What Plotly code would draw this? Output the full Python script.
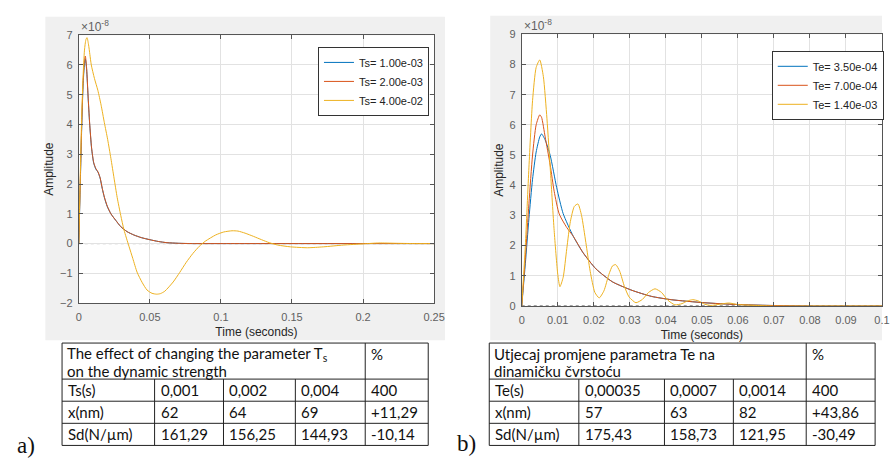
import plotly.graph_objects as go

W, H = 893, 464

# ---------------- data (amplitudes in units of 1e-8) ----------------
labels_a = ["Ts= 1.00e-03", "Ts= 2.00e-03", "Ts= 4.00e-02"]
labels_b = ["Te= 3.50e-04", "Te= 7.00e-04", "Te= 1.40e-03"]
colors = ["#0072BD", "#D95319", "#EDB120"]

t_a12 = [0, 0.001, 0.002, 0.003, 0.004, 0.0046, 0.0055, 0.0065, 0.0076, 0.009, 0.0105,
         0.012, 0.0135, 0.015, 0.0165, 0.018, 0.02, 0.0226, 0.026, 0.0295, 0.034, 0.0387,
         0.044, 0.05, 0.056, 0.062, 0.07, 0.08, 0.1, 0.15, 0.2, 0.25]
amp_a1 = [0, 1.9, 3.8, 5.3, 6.05, 6.2, 5.85, 4.95, 4.05, 3.2, 2.7,
          2.5, 2.4, 2.2, 1.85, 1.55, 1.25, 1.0, 0.78, 0.57, 0.4, 0.29,
          0.2, 0.13, 0.07, 0.03, 0.01, 0.0, 0.0, 0.0, 0.0, 0.0]
amp_a2 = [0, 2.0, 3.9, 5.4, 6.15, 6.3, 5.9, 5.0, 4.08, 3.22, 2.72,
          2.52, 2.41, 2.21, 1.86, 1.56, 1.26, 1.0, 0.78, 0.57, 0.4, 0.29,
          0.2, 0.13, 0.07, 0.03, 0.01, 0.0, 0.0, 0.0, 0.0, 0.0]
t_a3 = [0, 0.001, 0.002, 0.003, 0.004, 0.005, 0.0058, 0.0068, 0.0078, 0.0088, 0.011, 0.0134,
        0.0157, 0.018, 0.0203, 0.0226, 0.0248, 0.027, 0.0295, 0.0318, 0.0353, 0.038, 0.041,
        0.0445, 0.048, 0.0515, 0.0548, 0.0575, 0.0605, 0.0664, 0.071, 0.0756, 0.0803, 0.0848,
        0.089, 0.0963, 0.102, 0.1078, 0.112, 0.117, 0.123, 0.1286, 0.134, 0.14, 0.149, 0.161,
        0.172, 0.186, 0.2, 0.211, 0.223, 0.237, 0.25]
amp_a3 = [0, 2.2, 4.2, 5.6, 6.5, 6.85, 6.92, 6.7, 6.35, 6.0, 5.55, 5.15,
          4.65, 4.06, 3.5, 2.86, 2.2, 1.55, 0.95, 0.46, -0.09, -0.5, -0.96,
          -1.3, -1.56, -1.67, -1.7, -1.68, -1.6, -1.29, -0.97, -0.63, -0.33, -0.09,
          0.08, 0.29, 0.39, 0.43, 0.42, 0.35, 0.24, 0.13, 0.03, -0.05, -0.11, -0.14,
          -0.11, -0.05, -0.01, 0.02, 0.01, 0.0, 0.0]

t_b1 = [0, 0.001, 0.002, 0.003, 0.004, 0.005, 0.0055, 0.0065, 0.0079, 0.0097, 0.0115, 0.0143,
        0.017, 0.0206, 0.0252, 0.0306, 0.036, 0.0415, 0.0506, 0.0597, 0.0688, 0.08, 0.1]
amp_b1 = [0, 1.4, 2.9, 4.2, 5.1, 5.6, 5.7, 5.5, 4.99, 3.92, 3.06, 2.31,
          1.77, 1.23, 0.8, 0.52, 0.32, 0.21, 0.11, 0.05, 0.02, 0.0, 0.0]
t_b2 = [0, 0.001, 0.002, 0.003, 0.004, 0.005, 0.0055, 0.0065, 0.0079, 0.009, 0.0104, 0.0125,
        0.0143, 0.017, 0.0206, 0.0252, 0.0306, 0.036, 0.0415, 0.0506, 0.0597, 0.0688, 0.08, 0.1]
amp_b2 = [0, 1.6, 3.4, 5.0, 6.0, 6.33, 6.25, 5.6, 4.67, 3.8, 3.05, 2.6,
          2.31, 1.77, 1.23, 0.8, 0.52, 0.32, 0.21, 0.11, 0.05, 0.02, 0.0, 0.0]
t_b3 = [0, 0.001, 0.002, 0.003, 0.004, 0.005, 0.006, 0.007, 0.008, 0.009, 0.01, 0.0106,
        0.0115, 0.0125, 0.0135, 0.0146, 0.0156, 0.0166, 0.0178, 0.019, 0.0203, 0.0215,
        0.0228, 0.0242, 0.0252, 0.0261, 0.0272, 0.0285, 0.0298, 0.0317, 0.0335, 0.0352,
        0.037, 0.0388, 0.0405, 0.0425, 0.0445, 0.046, 0.0475, 0.049, 0.0508, 0.0525,
        0.055, 0.0575, 0.06, 0.065, 0.07, 0.08, 0.1]
amp_b3 = [0, 2.0, 4.6, 6.8, 7.9, 8.15, 7.6, 6.2, 4.4, 2.5, 1.05, 0.64,
          0.95, 1.9, 2.8, 3.3, 3.38, 3.0, 2.1, 1.15, 0.45, 0.27,
          0.5, 1.05, 1.33, 1.37, 1.15, 0.65, 0.3, 0.11, 0.22, 0.45,
          0.57, 0.45, 0.2, 0.04, 0.08, 0.17, 0.21, 0.17, 0.06, 0.02,
          0.06, 0.1, 0.05, 0.02, 0.0, 0.0, 0.0]

# tables
head_a = ["The effect of changing the parameter T<sub>s</sub>", "on the dynamic strength"]
rows_a = [["Ts(s)", "0,001", "0,002", "0,004", "400"],
          ["x(nm)", "62", "64", "69", "+11,29"],
          ["Sd(N/\u00b5m)", "161,29", "156,25", "144,93", "-10,14"]]
head_b = ["Utjecaj promjene parametra Te na", "dinami\u010dku \u010dvrsto\u0107u"]
rows_b = [["Te(s)", "0,00035", "0,0007", "0,0014", "400"],
          ["x(nm)", "57", "63", "82", "+43,86"],
          ["Sd(N/\u00b5m)", "175,43", "158,73", "121,95", "-30,49"]]

# ---------------- helpers ----------------
def px(x):
    return x / W

def py(y):
    return 1 - y / H

fig = go.Figure()

series_a = [(t_a12, amp_a1), (t_a12, amp_a2), (t_a3, amp_a3)]
series_b = [(t_b1, amp_b1), (t_b2, amp_b2), (t_b3, amp_b3)]
for (t, a), lab, c in zip(series_a, labels_a, colors):
    fig.add_trace(go.Scatter(x=t, y=a, mode="lines", name=lab, xaxis="x", yaxis="y",
                             line=dict(color=c, width=1.0, shape="spline", smoothing=0.6),
                             legend="legend"))
for (t, a), lab, c in zip(series_b, labels_b, colors):
    fig.add_trace(go.Scatter(x=t, y=a, mode="lines", name=lab, xaxis="x2", yaxis="y2",
                             line=dict(color=c, width=1.0, shape="spline", smoothing=0.6),
                             legend="legend2"))

tickfont = dict(family="Liberation Sans, Arial", size=11, color="#606060")
titlefont = dict(family="Liberation Sans, Arial", size=12, color="#262626")
axcommon = dict(showgrid=True, gridcolor="#e2e2e2", showline=True, linecolor="#555555",
                linewidth=1, mirror="ticks", ticks="inside", ticklen=4, tickcolor="#555555",
                tickfont=tickfont, zeroline=False)

xa_range = [0, 0.25]
xb_range = [0, 0.1]
fig.update_layout(
    width=W, height=H, margin=dict(l=0, r=0, t=0, b=0),
    paper_bgcolor="white", plot_bgcolor="rgba(0,0,0,0)",
    xaxis=dict(domain=[px(77), px(438)], range=xa_range, dtick=0.05, tick0=0, ticklabelstandoff=4,
               anchor="y", title=dict(text="Time (seconds)", font=titlefont, standoff=5), **axcommon),
    yaxis=dict(domain=[py(305), py(30)], range=[-2, 7], dtick=1, anchor="x", ticklabelstandoff=3,
               title=dict(text="Amplitude", font=titlefont, standoff=3), **axcommon),
    xaxis2=dict(domain=[px(527), 1.0], range=xb_range, dtick=0.01, tick0=0, ticklabelstandoff=4,
                anchor="y2", title=dict(text="Time (seconds)", font=titlefont, standoff=5), **axcommon),
    yaxis2=dict(domain=[py(308), py(29)], range=[0, 9], dtick=1, anchor="x2", ticklabelstandoff=3,
                title=dict(text="Amplitude", font=titlefont, standoff=3), **axcommon),
    legend=dict(x=px(320), y=py(42), xanchor="left", yanchor="top", bgcolor="white",
                bordercolor="#333333", borderwidth=1,
                font=dict(family="Liberation Sans, Arial", size=11, color="#222222")),
    legend2=dict(x=px(781), y=py(46), xanchor="left", yanchor="top", bgcolor="white",
                 bordercolor="#333333", borderwidth=1,
                 font=dict(family="Liberation Sans, Arial", size=11, color="#222222")),
)

shapes = []
# MATLAB figure panels
shapes.append(dict(type="rect", xref="paper", yref="paper", x0=px(43), x1=px(449), y0=py(343), y1=py(11),
                   fillcolor="#f0f0f0", line=dict(width=0), layer="below"))
shapes.append(dict(type="rect", xref="paper", yref="paper", x0=px(495), x1=1.0, y0=py(343), y1=py(10),
                   fillcolor="#f0f0f0", line=dict(width=0), layer="below"))
shapes.append(dict(type="rect", xref="paper", yref="paper", x0=px(77), x1=px(438), y0=py(305), y1=py(30),
                   fillcolor="white", line=dict(width=0), layer="below"))
shapes.append(dict(type="rect", xref="paper", yref="paper", x0=px(527), x1=1.0, y0=py(308), y1=py(29),
                   fillcolor="white", line=dict(width=0), layer="below"))
# dotted zero reference lines
shapes.append(dict(type="line", xref="x", yref="y", x0=xa_range[0], x1=xa_range[1], y0=0, y1=0,
                   line=dict(color="#444444", width=1, dash="dot"), layer="below"))
shapes.append(dict(type="line", xref="x2", yref="y2", x0=xb_range[0], x1=xb_range[1], y0=0, y1=0,
                   line=dict(color="#444444", width=1, dash="dot"), layer="below"))

annotations = []
expfont = dict(family="Liberation Sans, Arial", size=12, color="#606060")
annotations.append(dict(text="\u00d710<sup>-8</sup>", x=px(77), y=py(21), xref="paper", yref="paper",
                        xanchor="left", yanchor="middle", showarrow=False, font=expfont))
annotations.append(dict(text="\u00d710<sup>-8</sup>", x=px(527), y=py(20), xref="paper", yref="paper",
                        xanchor="left", yanchor="middle", showarrow=False, font=expfont))

tfont = dict(family="Lato, Open Sans, sans-serif", size=15, color="#111111")

def add_table(cols, head, rows, top=346, hbot=383, rowh=22.7):
    lw = dict(color="#222222", width=1)
    bottom = hbot + rowh * len(rows)
    ys = [top, hbot] + [hbot + rowh * (i + 1) for i in range(len(rows))]
    for y in ys:
        shapes.append(dict(type="line", xref="paper", yref="paper", x0=px(cols[0]), x1=px(cols[-1]),
                           y0=py(y), y1=py(y), line=lw))
    for i, x in enumerate(cols):
        ytop = top if i in (0, len(cols) - 2, len(cols) - 1) else hbot
        shapes.append(dict(type="line", xref="paper", yref="paper", x0=px(x), x1=px(x),
                           y0=py(ytop), y1=py(bottom), line=lw))
    for k, line in enumerate(head):
        annotations.append(dict(text=line, x=px(cols[0] + 3), y=py(top + 11 + 18 * k), xref="paper",
                                yref="paper", xanchor="left", yanchor="middle", showarrow=False, font=tfont))
    annotations.append(dict(text="%", x=px(cols[-2] + 4), y=py(top + 11), xref="paper", yref="paper",
                            xanchor="left", yanchor="middle", showarrow=False, font=tfont))
    for r, row in enumerate(rows):
        yc = hbot + rowh * (r + 0.5)
        for c, val in enumerate(row):
            annotations.append(dict(text=val, x=px(cols[c] + 4), y=py(yc), xref="paper", yref="paper",
                                    xanchor="left", yanchor="middle", showarrow=False, font=tfont))

add_table([60, 154, 224, 297, 368, 432], head_a, rows_a)
add_table([494, 585, 672, 742, 816, 886], head_b, rows_b)

sfont = dict(family="Liberation Serif, Times New Roman, serif", size=23, color="#111111")
annotations.append(dict(text="a)", x=px(12), y=py(451), xref="paper", yref="paper", xanchor="left",
                        yanchor="middle", showarrow=False, font=sfont))
annotations.append(dict(text="b)", x=px(459), y=py(449), xref="paper", yref="paper", xanchor="left",
                        yanchor="middle", showarrow=False, font=sfont))

fig.update_layout(shapes=shapes, annotations=annotations)
fig.write_html("out.html")
